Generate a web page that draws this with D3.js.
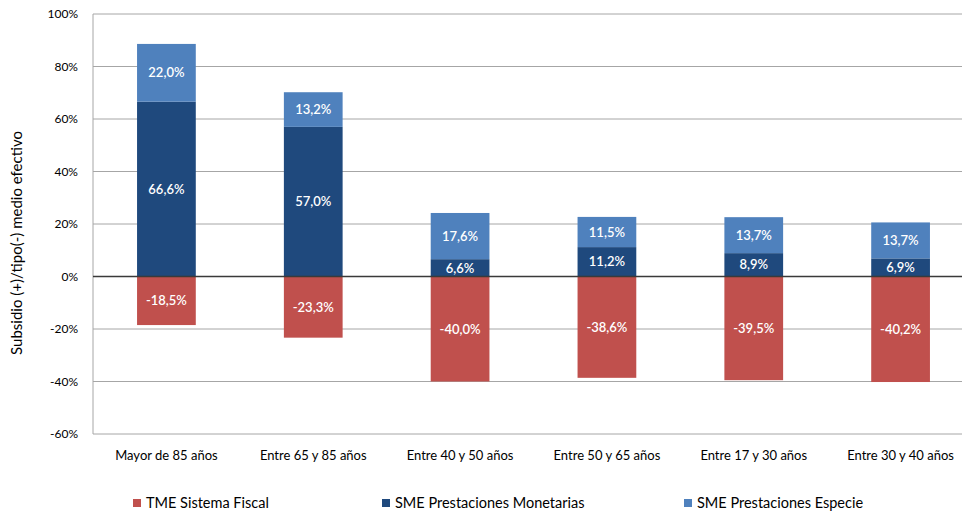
<!DOCTYPE html>
<html>
<head>
<meta charset="utf-8">
<script src="https://cdn.jsdelivr.net/npm/d3@7"></script>
<style>
  html, body { margin: 0; padding: 0; background: #fff; }
  svg { display: block; }
  text { font-family: Lato, "Open Sans", sans-serif; }
</style>
</head>
<body>
<svg id="chart" width="962" height="516"></svg>
<script>
// Age groups and the three components of the effective rate (in %)
const categories = ["Mayor de 85 años", "Entre 65 y 85 años", "Entre 40 y 50 años",
                    "Entre 50 y 65 años", "Entre 17 y 30 años", "Entre 30 y 40 años"];
const tmeFiscal = [-18.5, -23.3, -40.0, -38.6, -39.5, -40.2];
const smeMonetarias = [66.6, 57.0, 6.6, 11.2, 8.9, 6.9];
const smeEspecie = [22.0, 13.2, 17.6, 11.5, 13.7, 13.7];
const yTicks = [-60, -40, -20, 0, 20, 40, 60, 80, 100];
const seriesNames = ["TME Sistema Fiscal", "SME Prestaciones Monetarias", "SME Prestaciones Especie"];
const seriesColors = ["#C0504D", "#1F497D", "#4F81BD"];

const svg = d3.select("#chart");
const plot = { left: 93, top: 14, right: 974, bottom: 434 };

const x = d3.scaleBand().domain(categories).range([plot.left, plot.right])
  .paddingInner(0.6).paddingOuter(0.3);
const y = d3.scaleLinear().domain([-60, 100]).range([plot.bottom, plot.top]);

const fmt = v => d3.format(".1f")(v).replace("\u2212", "-").replace(".", ",") + "%";

// Horizontal gridlines
svg.append("g").selectAll("line").data(yTicks).join("line")
  .attr("x1", plot.left).attr("x2", plot.right)
  .attr("y1", d => y(d)).attr("y2", d => y(d))
  .attr("stroke", "#a6a6a6").attr("stroke-width", 1);

// Left axis line
svg.append("line")
  .attr("x1", plot.left).attr("x2", plot.left)
  .attr("y1", plot.top).attr("y2", plot.bottom)
  .attr("stroke", "#a6a6a6");

// Y tick labels
svg.append("g").selectAll("text").data(yTicks).join("text")
  .attr("x", plot.left - 15).attr("y", d => y(d)).attr("dy", "0.35em")
  .attr("text-anchor", "end").attr("fill", "#000").style("font-size", "12px")
  .text(d => d + "%");

// Y axis title
svg.append("text")
  .attr("transform", `translate(22,${(y(100) + y(-60)) / 2 + 19}) rotate(-90)`)
  .attr("text-anchor", "middle").attr("fill", "#000").style("font-size", "15px")
  .text("Subsidio (+)/tipo(-) medio efectivo");

// Stacked segments
const segs = [];
categories.forEach((c, i) => {
  segs.push({ c, y0: tmeFiscal[i], y1: 0, v: tmeFiscal[i], s: 0 });
  segs.push({ c, y0: 0, y1: smeMonetarias[i], v: smeMonetarias[i], s: 1 });
  segs.push({ c, y0: smeMonetarias[i], y1: smeMonetarias[i] + smeEspecie[i], v: smeEspecie[i], s: 2 });
});

svg.append("g").selectAll("rect").data(segs).join("rect")
  .attr("x", d => x(d.c)).attr("width", x.bandwidth())
  .attr("y", d => y(Math.max(d.y0, d.y1)))
  .attr("height", d => Math.abs(y(d.y0) - y(d.y1)))
  .attr("fill", d => seriesColors[d.s]);

// Zero line
svg.append("line")
  .attr("x1", plot.left).attr("x2", plot.right)
  .attr("y1", y(0)).attr("y2", y(0))
  .attr("stroke", "#3a3a3a").attr("stroke-width", 1.5);

// Value labels
svg.append("g").selectAll("text").data(segs).join("text")
  .attr("x", d => x(d.c) + x.bandwidth() / 2)
  .attr("y", d => y((d.y0 + d.y1) / 2)).attr("dy", "0.36em")
  .attr("text-anchor", "middle").attr("fill", "#fff")
  .style("font-size", "13px").style("font-weight", "600")
  .text(d => fmt(d.v));

// Category labels
svg.append("g").selectAll("text").data(categories).join("text")
  .attr("x", d => x(d) + x.bandwidth() / 2).attr("y", 455).attr("dy", "0.35em")
  .attr("text-anchor", "middle").attr("fill", "#000").style("font-size", "13px")
  .text(d => d);

// Legend
const legendX = [133, 382, 684];
const lg = svg.append("g").selectAll("g").data(seriesNames).join("g")
  .attr("transform", (d, i) => `translate(${legendX[i]},503)`);
lg.append("rect").attr("x", 0).attr("y", -4).attr("width", 8).attr("height", 8)
  .attr("fill", (d, i) => seriesColors[i]);
lg.append("text").attr("x", 13).attr("y", 0).attr("dy", "0.35em")
  .attr("fill", "#000").style("font-size", "14.5px").text(d => d);
</script>
</body>
</html>
